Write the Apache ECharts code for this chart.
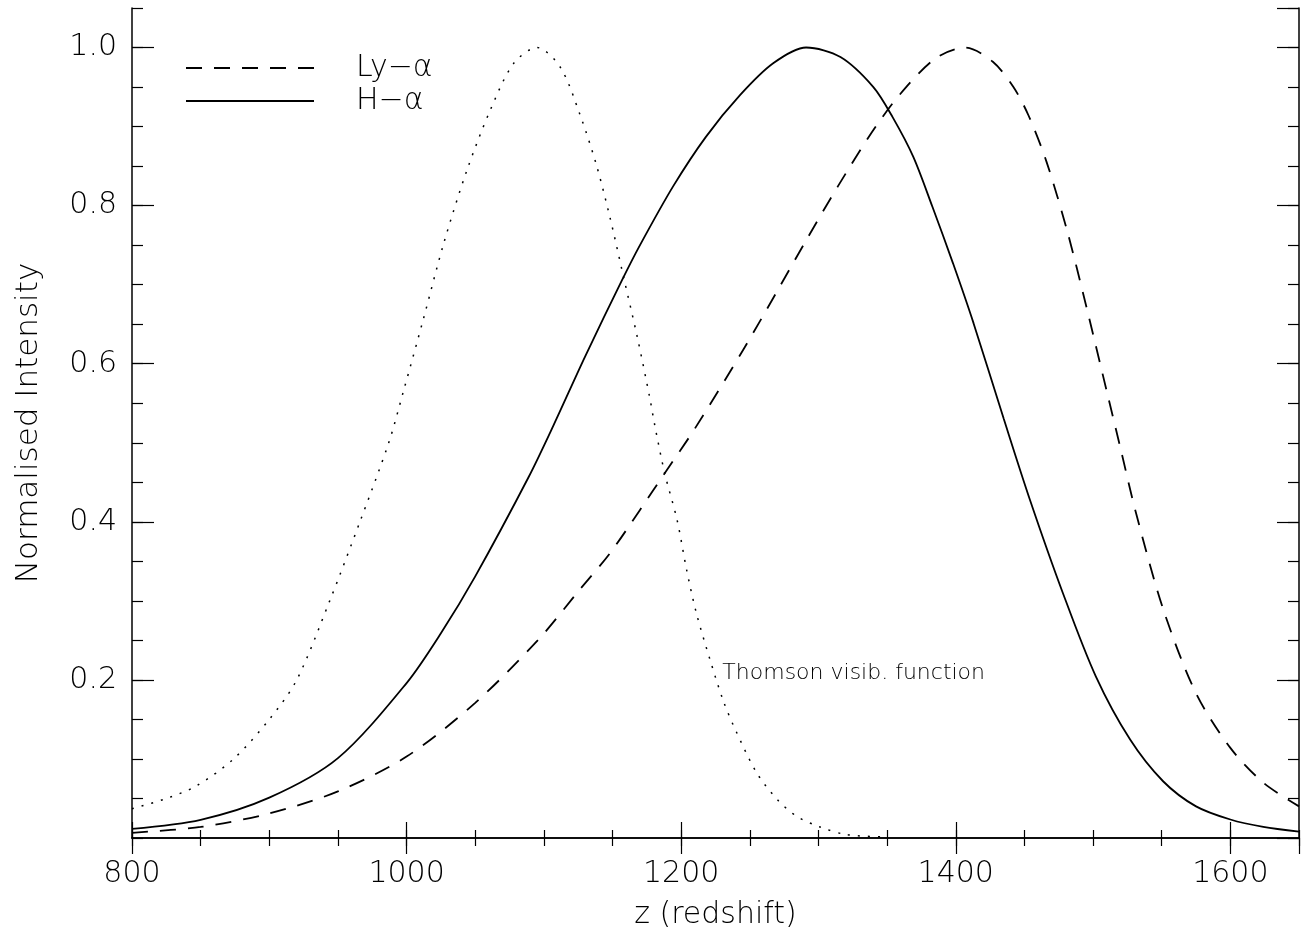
<!DOCTYPE html>
<html>
<head>
<meta charset="utf-8">
<script src="https://cdn.jsdelivr.net/npm/echarts@6/dist/echarts.min.js"></script>
<style>html,body{margin:0;padding:0;background:#fff}#c{width:1305px;height:939px}</style>
</head>
<body>
<div id="c"></div>
<script>
// ---- data ----
const zLy = [800, 850, 900, 950, 1000, 1050, 1096, 1126, 1148, 1170, 1188, 1210, 1245, 1269, 1291, 1314, 1339, 1359, 1385, 1407, 1427, 1442, 1453, 1466, 1481, 1495, 1510, 1520, 1531, 1551, 1575, 1600, 1624, 1650];
const vLy = [0.0066, 0.014, 0.031, 0.059, 0.103, 0.171, 0.251, 0.314, 0.360, 0.415, 0.4615, 0.518, 0.617, 0.689, 0.756, 0.824, 0.893, 0.940, 0.986, 1.0, 0.982, 0.950, 0.914, 0.856, 0.769, 0.673, 0.565, 0.493, 0.413, 0.290, 0.183, 0.114, 0.070, 0.040];

const zH = [800, 850, 900, 950, 1000, 1025, 1050, 1089, 1107, 1130, 1157, 1170, 1194, 1218, 1243, 1267, 1291, 1316, 1340, 1354, 1369, 1383, 1398, 1413, 1435, 1454, 1478, 1502, 1527, 1551, 1575, 1600, 1624, 1650];
const vH = [0.0116, 0.023, 0.051, 0.101, 0.196, 0.259, 0.331, 0.457, 0.522, 0.609, 0.706, 0.750, 0.824, 0.887, 0.940, 0.980, 1.0, 0.988, 0.950, 0.912, 0.862, 0.7985, 0.727, 0.651, 0.530, 0.428, 0.310, 0.2045, 0.1245, 0.0718, 0.040, 0.0234, 0.014, 0.008];

const zTh = [800, 825, 847, 874, 900, 920, 944, 966, 987, 998, 1012, 1027, 1044, 1061, 1078, 1095, 1112, 1126, 1138, 1148, 1158, 1168, 1177, 1181, 1188, 1197, 1204, 1211, 1221, 1231, 1240, 1255, 1270, 1284, 1301, 1320, 1345];
const vTh = [0.037, 0.050, 0.066, 0.100, 0.150, 0.200, 0.300, 0.400, 0.500, 0.567, 0.655, 0.752, 0.845, 0.921, 0.980, 1.0, 0.975, 0.9165, 0.853, 0.786, 0.710, 0.634, 0.558, 0.520, 0.4615, 0.4025, 0.339, 0.285, 0.2256, 0.172, 0.135, 0.0824, 0.0487, 0.0276, 0.014, 0.0044, 0.0015];

const seriesNames = ['Ly\u2212\u03B1', 'H\u2212\u03B1'];
const noteText = 'Thomson visib. function';
const notePoint = [1230, 0.209];

const xTitle = 'z (redshift)';
const yTitle = 'Normalised Intensity';
const xMin = 800, xMax = 1650, xMajor = 200, xMinor = 50;
const yMin = 0, yMax = 1.05, yMajor = 0.2, yMinor = 0.05;

// ---- chart ----
const FONT = 'DejaVu Sans';
const FW = 200;
const pairs = (zs, vs) => zs.map((z, i) => [z, vs[i]]);
const gridRect = { left: 132, right: 6, top: 8, bottom: 101 };

function xAx(grid, pos, interval, tickLen, main) {
  return {
    type: 'value', gridIndex: grid, position: pos, min: xMin, max: xMax, interval: interval,
    axisLine: { show: main, lineStyle: { color: '#000', width: 1.5 } },
    axisTick: { show: true, inside: true, length: tickLen, lineStyle: { color: '#000', width: 1.2 } },
    axisLabel: { show: main && pos === 'bottom', fontFamily: FONT, fontWeight: FW, fontSize: 30, color: '#000', margin: 21,
      showMaxLabel: false, formatter: v => String(v) },
    splitLine: { show: false },
    name: (main && pos === 'bottom') ? xTitle : '',
    nameLocation: 'middle', nameGap: 62,
    nameTextStyle: { fontFamily: FONT, fontWeight: FW, fontSize: 30, color: '#000' }
  };
}
function yAx(grid, pos, interval, tickLen, main) {
  return {
    type: 'value', gridIndex: grid, position: pos, min: yMin, max: yMax, interval: interval,
    axisLine: { show: main, lineStyle: { color: '#000', width: 1.5 } },
    axisTick: { show: true, inside: true, length: tickLen, lineStyle: { color: '#000', width: 1.2 } },
    axisLabel: { show: main && pos === 'left', fontFamily: FONT, fontWeight: FW, fontSize: 30, color: '#000', margin: 15,
      showMinLabel: false, showMaxLabel: false, formatter: v => v.toFixed(1) },
    splitLine: { show: false },
    name: (main && pos === 'left') ? yTitle : '',
    nameLocation: 'middle', nameGap: 88,
    nameTextStyle: { fontFamily: FONT, fontWeight: FW, fontSize: 31, color: '#000' }
  };
}

const chart = echarts.init(document.getElementById('c'), null, { renderer: 'canvas' });
chart.setOption({
  animation: false,
  backgroundColor: '#fff',
  grid: [Object.assign({}, gridRect), Object.assign({}, gridRect)],
  xAxis: [xAx(0, 'bottom', xMajor, 16, true), xAx(0, 'top', xMajor, 16, true),
          xAx(1, 'bottom', xMinor, 8, false), xAx(1, 'top', xMinor, 8, false)],
  yAxis: [yAx(0, 'left', yMajor, 22, true), yAx(0, 'right', yMajor, 22, true),
          yAx(1, 'left', yMinor, 11, false), yAx(1, 'right', yMinor, 11, false)],
  legend: {
    data: seriesNames, orient: 'vertical', left: 185, top: 53, padding: 0,
    itemWidth: 128, itemHeight: 14, itemGap: 3,
    itemStyle: { opacity: 0 },
    textStyle: { fontFamily: FONT, fontWeight: FW, fontSize: 30, color: '#000', lineHeight: 30, padding: [0, 0, 0, 37] }
  },
  series: [
    { name: seriesNames[0], type: 'line', xAxisIndex: 0, yAxisIndex: 0, data: pairs(zLy, vLy),
      symbol: 'none', smooth: 0.3,
      lineStyle: { color: '#000', width: 1.8, type: [16, 12] }, itemStyle: { color: '#000', opacity: 0 } },
    { name: seriesNames[1], type: 'line', xAxisIndex: 0, yAxisIndex: 0, data: pairs(zH, vH),
      symbol: 'none', smooth: 0.3,
      lineStyle: { color: '#000', width: 1.8, type: 'solid' }, itemStyle: { color: '#000', opacity: 0 } },
    { name: 'Thomson', type: 'line', xAxisIndex: 0, yAxisIndex: 0, data: pairs(zTh, vTh),
      symbol: 'none', smooth: 0.3,
      lineStyle: { color: '#000', width: 1.5, type: [2, 8] }, itemStyle: { color: '#000', opacity: 0 },
      markPoint: { silent: true, symbol: 'circle', symbolSize: 0,
        data: [{ coord: notePoint }],
        label: { show: true, position: 'right', distance: 0, formatter: noteText,
          fontFamily: FONT, fontWeight: FW, fontSize: 22, color: '#000' } } }
  ]
});
</script>
</body>
</html>
